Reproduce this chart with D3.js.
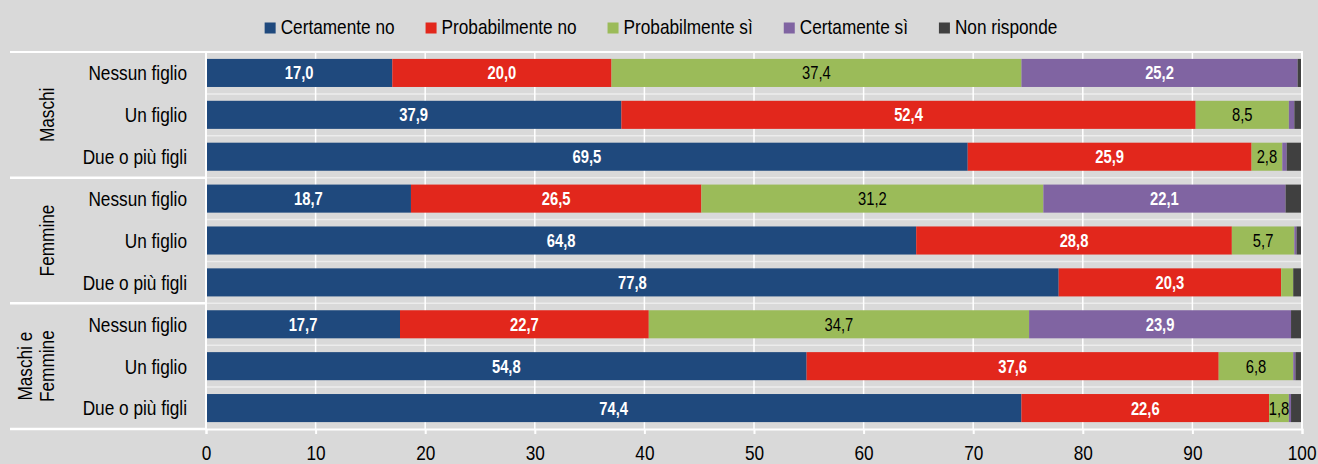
<!DOCTYPE html>
<html>
<head>
<meta charset="utf-8">
<script src="https://cdn.jsdelivr.net/npm/d3@7"></script>
<style>
  body { margin: 0; background: #d9d9d9; }
  svg { display: block; font-family: "Liberation Sans", Arial, sans-serif; }
</style>
</head>
<body>
<svg id="chart"></svg>
<script>
// categories
const groups = ["Maschi", "Femmine", "Maschi e Femmine"]
const categories = ["Nessun figlio", "Un figlio", "Due o più figli"]
const seriesNames = ["Certamente no", "Probabilmente no", "Probabilmente sì", "Certamente sì", "Non risponde"]
const seriesColours = ["#1f497d", "#e2271c", "#9bbb59", "#8064a2", "#404040"]

// values (per row: Maschi x3, Femmine x3, Maschi e Femmine x3)
const certamenteNo    = [17.0, 37.9, 69.5, 18.7, 64.8, 77.8, 17.7, 54.8, 74.4]
const probabilmenteNo = [20.0, 52.4, 25.9, 26.5, 28.8, 20.3, 22.7, 37.6, 22.6]
const probabilmenteSi = [37.4, 8.5, 2.8, 31.2, 5.7, 1.1, 34.7, 6.8, 1.8]
const certamenteSi    = [25.2, 0.5, 0.4, 22.1, 0.2, 0.0, 23.9, 0.2, 0.2]
const nonRisponde     = [0.4, 0.7, 1.4, 1.5, 0.5, 0.8, 1.0, 0.6, 1.0]

const xTicks = [0, 10, 20, 30, 40, 50, 60, 70, 80, 90, 100]

const W = 1318, H = 464
const margin = { top: 52, right: 16, bottom: 35, left: 206 }
const squeeze = 0.82 // the original uses a narrow face

const svg = d3.select("#chart").attr("width", W).attr("height", H)

svg.append("rect").attr("width", W).attr("height", H).style("fill", "#d9d9d9")

// squash text horizontally to look like a narrow font
function narrow(sel) {
  sel.each(function() {
    const len = this.getComputedTextLength()
    d3.select(this).attr("textLength", len * squeeze).attr("lengthAdjust", "spacingAndGlyphs")
  })
}

// build the rows
const allSeries = [certamenteNo, probabilmenteNo, probabilmenteSi, certamenteSi, nonRisponde]
const rows = []
groups.forEach((g, gi) => {
  categories.forEach((c, ci) => {
    const idx = gi * categories.length + ci
    const row = { id: idx, group: g, cat: c }
    seriesNames.forEach((s, si) => { row[s] = allSeries[si][idx] })
    rows.push(row)
  })
})

const stacked = d3.stack().keys(seriesNames)(rows)

const xScale = d3.scaleLinear().domain([0, 100]).range([margin.left, W - margin.right])
const yScale = d3.scaleBand()
  .domain(rows.map(d => d.id))
  .range([margin.top, H - margin.bottom])
  .paddingInner(0.33)
  .paddingOuter(0.165)
const colour = d3.scaleOrdinal().domain(seriesNames).range(seriesColours)

const step = yScale.step()
const rowTop = i => yScale(i) - step * yScale.paddingOuter()
const bottomY = H - margin.bottom

// faint row separators
svg.append("g")
  .selectAll("line")
  .data(d3.range(1, rows.length))
  .enter()
  .append("line")
  .attr("x1", xScale(0)).attr("x2", xScale(100))
  .attr("y1", d => rowTop(d)).attr("y2", d => rowTop(d))
  .style("stroke", "#ececec")
  .style("stroke-width", 1.5)

// vertical gridlines
svg.append("g")
  .selectAll("line")
  .data(xTicks)
  .enter()
  .append("line")
  .attr("x1", d => xScale(d)).attr("x2", d => xScale(d))
  .attr("y1", margin.top).attr("y2", bottomY)
  .style("stroke", "#fff")
  .style("stroke-width", 1.5)

// top border
svg.append("line")
  .attr("x1", 10).attr("x2", xScale(100) + 1)
  .attr("y1", margin.top).attr("y2", margin.top)
  .style("stroke", "#fff").style("stroke-width", 2)

// group separators on the left
const groupLines = d3.range(1, groups.length + 1).map(g => rowTop(0) + g * categories.length * step)
svg.append("g")
  .selectAll("line")
  .data(groupLines)
  .enter()
  .append("line")
  .attr("x1", 10).attr("x2", margin.left)
  .attr("y1", d => d).attr("y2", d => d)
  .style("stroke", "#fff").style("stroke-width", 2.5)

// stacked bars
const layers = svg.append("g")
  .selectAll("g")
  .data(stacked)
  .enter()
  .append("g")
  .style("fill", d => colour(d.key))

layers.selectAll("rect")
  .data(d => d)
  .enter()
  .append("rect")
  .attr("x", d => xScale(d[0]))
  .attr("y", d => yScale(d.data.id))
  .attr("width", d => Math.max(0, xScale(d[1]) - xScale(d[0])))
  .attr("height", yScale.bandwidth())

// value labels
const fmt = v => d3.format(".1f")(v).replace(".", ",")
stacked.forEach((layer, si) => {
  if (si === 4) return
  svg.append("g")
    .selectAll("text")
    .data(layer.filter(d => d[1] - d[0] >= 1.5))
    .enter()
    .append("text")
    .attr("x", d => xScale((d[0] + d[1]) / 2))
    .attr("y", d => yScale(d.data.id) + yScale.bandwidth() / 2)
    .attr("dy", "0.36em")
    .attr("text-anchor", "middle")
    .style("font-size", "18px")
    .style("font-weight", si === 2 ? "normal" : "bold")
    .style("fill", si === 2 ? "#000" : "#fff")
    .text(d => fmt(d[1] - d[0]))
    .call(narrow)
})

// x axis
const xAxis = d3.axisBottom(xScale).tickValues(xTicks).tickSize(5).tickPadding(11)
const gX = svg.append("g")
  .attr("transform", "translate(0," + bottomY + ")")
  .call(xAxis)
gX.select(".domain").attr("stroke", "#fff").attr("stroke-width", 2)
gX.selectAll(".tick line").attr("stroke", "#fff").attr("stroke-width", 2)
gX.selectAll(".tick text")
  .attr("transform", "scale(" + squeeze + ",1)")
  .style("font-size", "21px")
  .style("font-family", "inherit")
  .style("fill", "#000")
// keep the last label inside the page
gX.selectAll(".tick text").filter(d => d === 100)
  .attr("text-anchor", "end")
  .attr("x", (W - 2 - xScale(100)) / squeeze)

// left axis line + right border
svg.append("line")
  .attr("x1", margin.left).attr("x2", margin.left)
  .attr("y1", margin.top).attr("y2", bottomY)
  .style("stroke", "#fff").style("stroke-width", 2)
svg.append("line")
  .attr("x1", xScale(100)).attr("x2", xScale(100))
  .attr("y1", margin.top).attr("y2", bottomY)
  .style("stroke", "#fff").style("stroke-width", 2)

// category labels
svg.append("g")
  .selectAll("text")
  .data(rows)
  .enter()
  .append("text")
  .attr("x", 187)
  .attr("y", d => yScale(d.id) + yScale.bandwidth() / 2)
  .attr("dy", "0.35em")
  .attr("text-anchor", "end")
  .style("font-size", "21px")
  .style("fill", "#000")
  .text(d => d.cat)
  .call(narrow)

// group labels (rotated)
const groupLabelLines = [["Maschi"], ["Femmine"], ["Maschi e", "Femmine"]]
groupLabelLines.forEach((lines, gi) => {
  const cy = rowTop(0) + (gi + 0.5) * categories.length * step
  lines.forEach((l, li) => {
    const cx = 47 + (li - (lines.length - 1)) * 22
    svg.append("text")
      .attr("transform", "translate(" + cx + "," + cy + ") rotate(-90)")
      .attr("text-anchor", "middle")
      .attr("dy", "0.35em")
      .style("font-size", "21px")
      .style("fill", "#000")
      .text(l)
      .call(narrow)
  })
})

// legend
const legend = svg.append("g")
let lx = 0
seriesNames.forEach((s) => {
  const item = legend.append("g").attr("transform", "translate(" + lx + ",0)")
  item.append("rect")
    .attr("x", 0).attr("y", 22.5)
    .attr("width", 11).attr("height", 11)
    .style("fill", colour(s))
  const txt = item.append("text")
    .attr("x", 16).attr("y", 34)
    .style("font-size", "21px")
    .style("fill", "#000")
    .text(s)
  const len = txt.node().getComputedTextLength() * squeeze
  txt.attr("textLength", len).attr("lengthAdjust", "spacingAndGlyphs")
  lx += 16 + len + 31
})
const legendW = lx - 31
legend.attr("transform", "translate(" + (W / 2 - legendW / 2 + 2) + ",0)")
</script>
</body>
</html>
